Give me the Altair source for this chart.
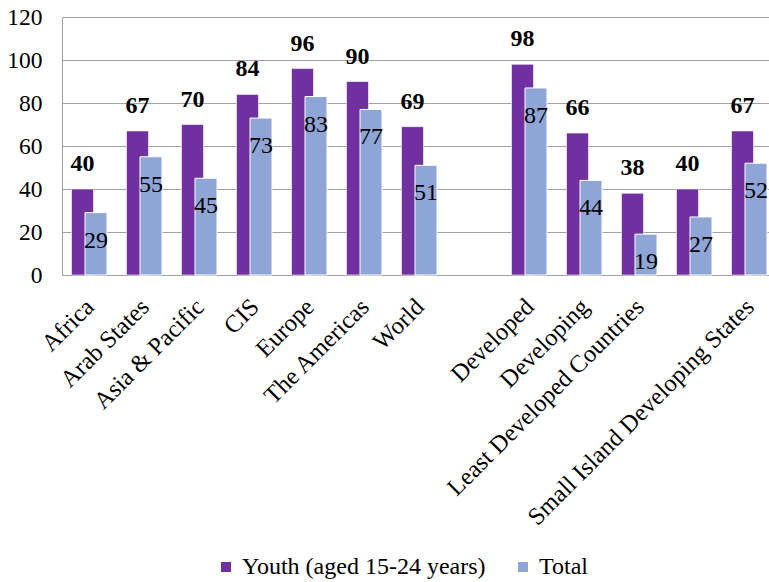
import altair as alt
import pandas as pd

# Regions and country groups; "_gap" is an empty spacer slot, "_blank" an unlabelled group
categories = [
    "Africa", "Arab States", "Asia & Pacific", "CIS", "Europe", "The Americas",
    "World", "Developed", "Developing", "Least Developed Countries", "_blank",
    "Small Island Developing States",
]
slot_order = categories[:7] + ["_gap"] + categories[7:]

youth = [40, 67, 70, 84, 96, 90, 69, 98, 66, 38, 40, 67]
total = [29, 55, 45, 73, 83, 77, 51, 87, 44, 19, 27, 52]

series = ["Youth (aged 15-24 years)", "Total"]
colors = ["#7030A0", "#8EA5D6"]
y_ticks = [0, 20, 40, 60, 80, 100, 120]

FONT = "'Liberation Serif', 'Times New Roman', serif"
FS = 23.5
FS_X = 24.5
FS_VAL = 24

rows = []
for c, yv, tv in zip(categories, youth, total):
    rows.append({"Category": c, "Series": series[0], "Value": yv})
    rows.append({"Category": c, "Series": series[1], "Value": tv})
df = pd.DataFrame(rows)

x_enc = alt.X(
    "Category:N",
    sort=slot_order,
    scale=alt.Scale(domain=slot_order, range=[0, 715], paddingInner=0, paddingOuter=0),
    axis=alt.Axis(
        title=None,
        labelAngle=-45,
        labelAlign="right",
        labelBaseline="middle",
        labelPadding=28,
        labelOffset=1,
        ticks=False,
        labelFont=FONT,
        labelFontSize=FS_X,
        labelColor="black",
        domainColor="#A0A0A0",
        labelExpr="substring(datum.label, 0, 1) == '_' ? '' : datum.label",
        labelOverlap=False,
        labelLimit=0,
    ),
)
y_enc = alt.Y(
    "Value:Q",
    scale=alt.Scale(domain=[0, 120], nice=False),
    axis=alt.Axis(
        title=None,
        values=y_ticks,
        ticks=False,
        labelPadding=20,
        labelFont=FONT,
        labelFontSize=FS,
        labelColor="black",
        gridColor="#A0A0A0",
        domainColor="#A0A0A0",
    ),
)
color_enc = alt.Color(
    "Series:N",
    scale=alt.Scale(domain=series, range=colors),
    legend=alt.Legend(
        title=None,
        orient="none",
        direction="horizontal",
        legendX=152,
        legendY=538,
        symbolType="square",
        symbolSize=100,
        symbolStrokeWidth=0,
        labelFont=FONT,
        labelFontSize=24,
        labelColor="black",
        labelLimit=0,
        columnPadding=25,
        labelOffset=4,
    ),
)

base = alt.Chart(df)

youth_bars = base.transform_filter(alt.datum.Series == series[0]).mark_bar(
    width=22, xOffset=-7, stroke="white", strokeWidth=0.6
).encode(x=x_enc, y=y_enc, color=color_enc)

total_bars = base.transform_filter(alt.datum.Series == series[1]).mark_bar(
    width=22, xOffset=6.5, stroke="white", strokeWidth=1
).encode(x=x_enc, y=y_enc, color=color_enc)

youth_labels = base.transform_filter(alt.datum.Series == series[0]).mark_text(
    xOffset=-7, dy=-18, baseline="alphabetic", font=FONT, fontSize=FS_VAL,
    fontWeight="bold", color="black",
).encode(x=x_enc, y=y_enc, text="Value:Q")

total_labels = base.transform_filter(alt.datum.Series == series[1]).mark_text(
    xOffset=6.5, dy=28, baseline="middle", font=FONT, fontSize=FS_VAL, color="black",
).encode(x=x_enc, y=y_enc, text="Value:Q")

chart = alt.layer(youth_bars, total_bars, youth_labels, total_labels).properties(
    width=707,
    height=258,
    autosize=alt.AutoSizeParams(type="none"),
    padding={"left": 62, "top": 17, "right": 0, "bottom": 307},
    background="white",
).configure(font=FONT).configure_view(stroke=None)

chart.save("out.html", embed_options={"renderer": "svg", "actions": False})
